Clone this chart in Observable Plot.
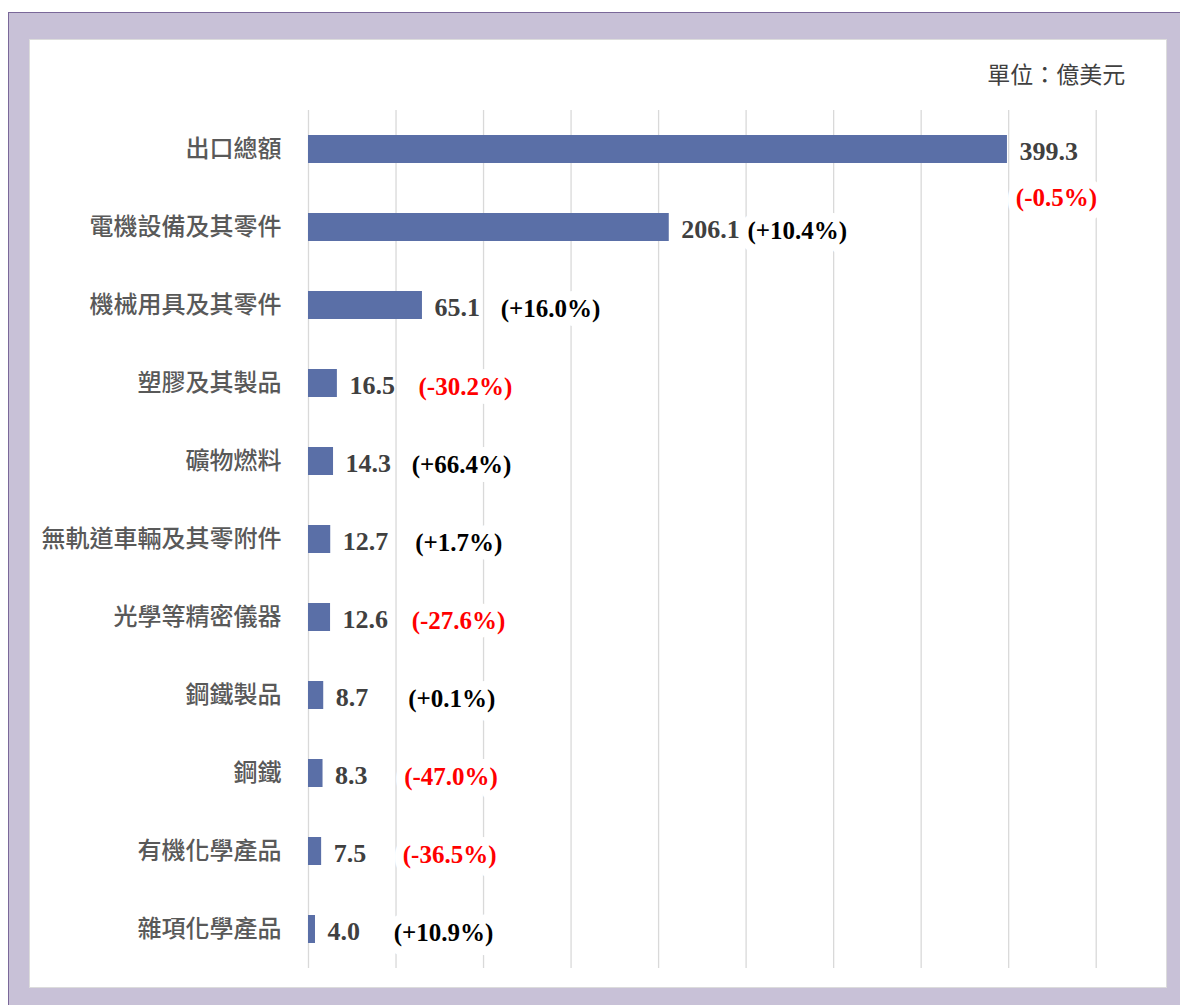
<!DOCTYPE html>
<html>
<head>
<meta charset="utf-8">
<script src="https://cdn.jsdelivr.net/npm/d3@7"></script>
<script src="https://cdn.jsdelivr.net/npm/@observablehq/plot@0.6"></script>
<style>
  html, body { margin: 0; padding: 0; background: #ffffff; overflow: hidden; }
  #page { position: relative; width: 1180px; height: 1005px; }
  #outer { position: absolute; left: 8px; top: 12px; right: 0; bottom: 0;
           background: #c8c1d7; border-top: 1.5px solid #7a6899; border-left: 1.5px solid #7a6899; }
  #inner { position: absolute; left: 29px; top: 39px; width: 1136px; height: 947px;
           background: #ffffff; border: 1px solid #dcdcdc; }
  #chart { position: absolute; left: 0; top: 0; }
</style>
</head>
<body>
<div id="page">
  <div id="outer"></div>
  <div id="inner"></div>
  <div id="chart"></div>
</div>
<script>
const categories = ["出口總額", "電機設備及其零件", "機械用具及其零件", "塑膠及其製品", "礦物燃料",
  "無軌道車輛及其零附件", "光學等精密儀器", "鋼鐵製品", "鋼鐵", "有機化學產品", "雜項化學產品"];
const values = [399.3, 206.1, 65.1, 16.5, 14.3, 12.7, 12.6, 8.7, 8.3, 7.5, 4.0];
const growth = [-0.5, 10.4, 16.0, -30.2, 66.4, 1.7, -27.6, 0.1, -47.0, -36.5, 10.9];
const gridTicks = [0, 50, 100, 150, 200, 250, 300, 350, 400, 450];
const unitLabel = "單位：億美元";

const data = categories.map((name, i) => ({
  name, value: values[i], growth: growth[i],
  pct: `(${growth[i] >= 0 ? "+" : ""}${growth[i].toFixed(1)}%)`,
  total: i === 0
}));

const serif = "'Liberation Serif', 'Times New Roman', serif";
const sans = "'Noto Sans CJK TC', 'Noto Sans', sans-serif";

const chart = Plot.plot({
  width: 1180,
  height: 1005,
  marginTop: 110,
  marginBottom: 37,
  marginLeft: 308,
  marginRight: 84.3,
  style: { background: "transparent", overflow: "visible" },
  x: { domain: [0, 450], axis: null },
  y: { domain: categories, paddingInner: 0.64, paddingOuter: 0.32, axis: null },
  marks: [
    Plot.gridX(gridTicks, { stroke: "#d9d9d9", strokeOpacity: 1, strokeWidth: 1.3 }),
    Plot.barX(data, { x: "value", y: "name", fill: "#5a6fa7" }),
    // category labels
    Plot.text(data, { y: "name", text: "name", frameAnchor: "left", textAnchor: "end", dx: -27, dy: 0,
      fontFamily: sans, fontSize: 24, fontWeight: 500, fill: "#595959" }),
    // value labels
    Plot.text(data, { x: "value", y: "name", text: d => d.value.toFixed(1), textAnchor: "start", dx: 12, dy: 2,
      fontFamily: serif, fontSize: 26, fontWeight: "bold", fill: "#404040" }),
    // growth labels (non-total rows)
    Plot.text(data.filter(d => !d.total), { x: "value", y: "name", text: "pct", textAnchor: "middle", dx: 128, dy: 3,
      fontFamily: serif, fontSize: 25, fontWeight: "bold",
      fill: d => d.growth < 0 ? "#ff0000" : "#000000",
      stroke: "white", strokeWidth: 18, paintOrder: "stroke", strokeLinejoin: "round" }),
    // growth label for total row (placed below)
    Plot.text(data.filter(d => d.total), { x: "value", y: "name", text: "pct", textAnchor: "middle", dx: 49, dy: 48,
      fontFamily: serif, fontSize: 25, fontWeight: "bold",
      fill: d => d.growth < 0 ? "#ff0000" : "#000000",
      stroke: "white", strokeWidth: 18, paintOrder: "stroke", strokeLinejoin: "round" }),
    // unit caption
    Plot.text([unitLabel], { frameAnchor: "top-right", textAnchor: "end", lineAnchor: "middle", dx: 29, dy: -35,
      fontFamily: sans, fontSize: 23, fill: "#404040" })
  ]
});
document.getElementById("chart").appendChild(chart);
</script>
</body>
</html>
